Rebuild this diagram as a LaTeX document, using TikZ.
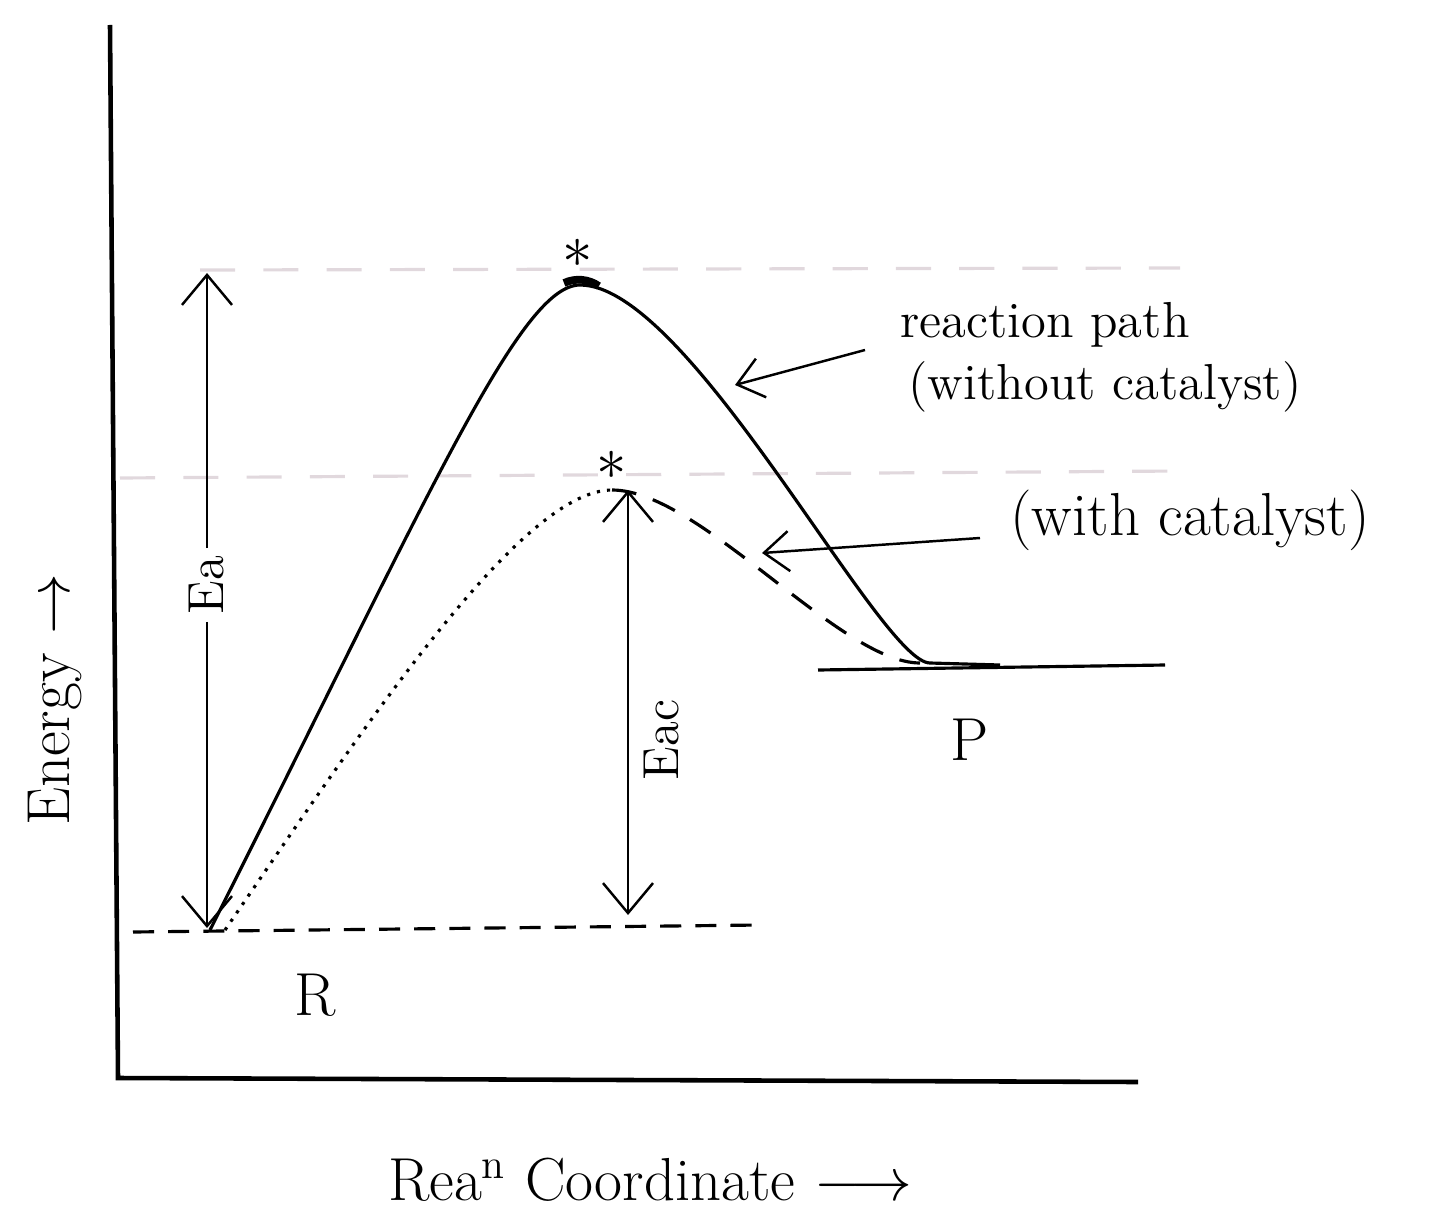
\documentclass[tikz,border=0pt]{standalone}
\usepackage{amsmath}
\usepackage{tikz}
\usetikzlibrary{arrows.meta}
\usetikzlibrary{positioning}

\definecolor{guidegray}{RGB}{225,216,221}

\tikzset{
    axisline/.style={line width=1.3pt},
    pathline/.style={line width=0.9pt},
    levelline/.style={line width=0.9pt, dashed, dash pattern=on 6pt off 4pt},
    guideline/.style={line width=0.9pt, guidegray, dash pattern=on 10pt off 8pt},
    dimarrow/.style={line width=0.7pt, -{Straight Barb[length=3mm,width=5mm]}},
    callout/.style={line width=0.7pt, -{Straight Barb[length=2.5mm,width=4mm]}},
    handtext/.style={font=\Large},
}

\begin{document}
\begin{tikzpicture}[x=1cm,y=1cm]
        \useasboundingbox (0,0) rectangle (14.32,12.23);

        % axes
        \coordinate (ytop) at (1.10,11.98);
        \coordinate (origin) at (1.18,1.45);
        \coordinate (xend) at (11.38,1.41);
        \draw[axisline] (ytop) -- (origin) -- (xend);

        % energy levels
        \coordinate (Rleft) at (1.33,2.91);
        \coordinate (Rpt) at (2.10,2.93);
        \coordinate (Rright) at (7.60,2.98);
        \draw[levelline] (Rleft) -- (Rright);
        \coordinate (Pleft) at (8.18,5.53);
        \coordinate (Pright) at (11.65,5.58);
        \draw[pathline] (Pleft) -- (Pright);

        % guide lines at the two peaks
        \draw[guideline] (2.00,9.53) -- (11.80,9.55);
        \draw[guideline] (1.20,7.45) -- (11.80,7.52);

        % path without catalyst
        \coordinate (TSa) at (5.80,9.38);
        \coordinate (Ppt) at (9.30,5.60);
        \draw[pathline] (Rpt) .. controls (4.30,7.30) and (5.20,9.38) .. (TSa)
            .. controls (6.90,9.38) and (8.80,5.60) .. (Ppt) -- (10.00,5.58);
        \draw[line width=2.2pt] (5.64,9.40) arc[start angle=115, end angle=55, radius=0.35];

        % path with catalyst
        \coordinate (Rcat) at (2.25,2.93);
        \coordinate (TSb) at (6.12,7.33);
        \coordinate (Pcat) at (9.20,5.60);
        \draw[pathline, dotted] (Rcat) .. controls (3.60,4.90) and (5.20,7.33) .. (TSb);
        \draw[pathline, dashed, dash pattern=on 7pt off 5pt] (TSb) .. controls (7.00,7.33) and (8.40,5.60) .. (Pcat);

        % transition states
        \node[font=\LARGE] (stara) at (5.78,9.70) {$\ast$};
        \node[font=\LARGE] (starb) at (6.12,7.58) {$\ast$};

        % activation energies
        \coordinate (EaTop) at (2.07,9.50);
        \coordinate (EaBot) at (2.07,2.95);
        \node[handtext, rotate=90, fill=white, inner sep=2pt] (Ea) at (2.07,6.38) {Ea};
        \draw[dimarrow] (Ea) -- (EaTop);
        \draw[dimarrow] (Ea) -- (EaBot);

        \coordinate (EacTop) at (6.28,7.33);
        \coordinate (EacBot) at (6.28,3.08);
        \draw[dimarrow, {Straight Barb[length=3mm,width=5mm]}-{Straight Barb[length=3mm,width=5mm]}] (EacTop) -- (EacBot);
        \node[handtext, rotate=90] (Eac) at (6.62,4.83) {Eac};

        % labels
        \node[font=\LARGE] (R) at (3.15,2.28) {R};
        \node[font=\LARGE] (P) at (9.70,4.83) {P};

        \node[handtext] (pathtxt) at (10.45,8.98) {reaction path};
        \node[handtext] (withouttxt) at (11.05,8.36) {(without catalyst)};
        \node[font=\LARGE] (withtxt) at (11.90,7.03) {(with catalyst)};
        \coordinate (pathtail) at (8.65,8.73);
        \coordinate (pathtip) at (7.35,8.38);
        \coordinate (cattail) at (9.80,6.85);
        \coordinate (cattip) at (7.62,6.70);
        \draw[callout] (pathtail) -- (pathtip);
        \draw[callout] (cattail) -- (cattip);

        \node[font=\LARGE, rotate=90] (ylab) at (0.55,5.23) {Energy $\rightarrow$};
        \node[font=\LARGE] (xlab) at (6.50,0.43) {Rea\textsuperscript{n} Coordinate $\longrightarrow$};
    \end{tikzpicture}
\end{document}
